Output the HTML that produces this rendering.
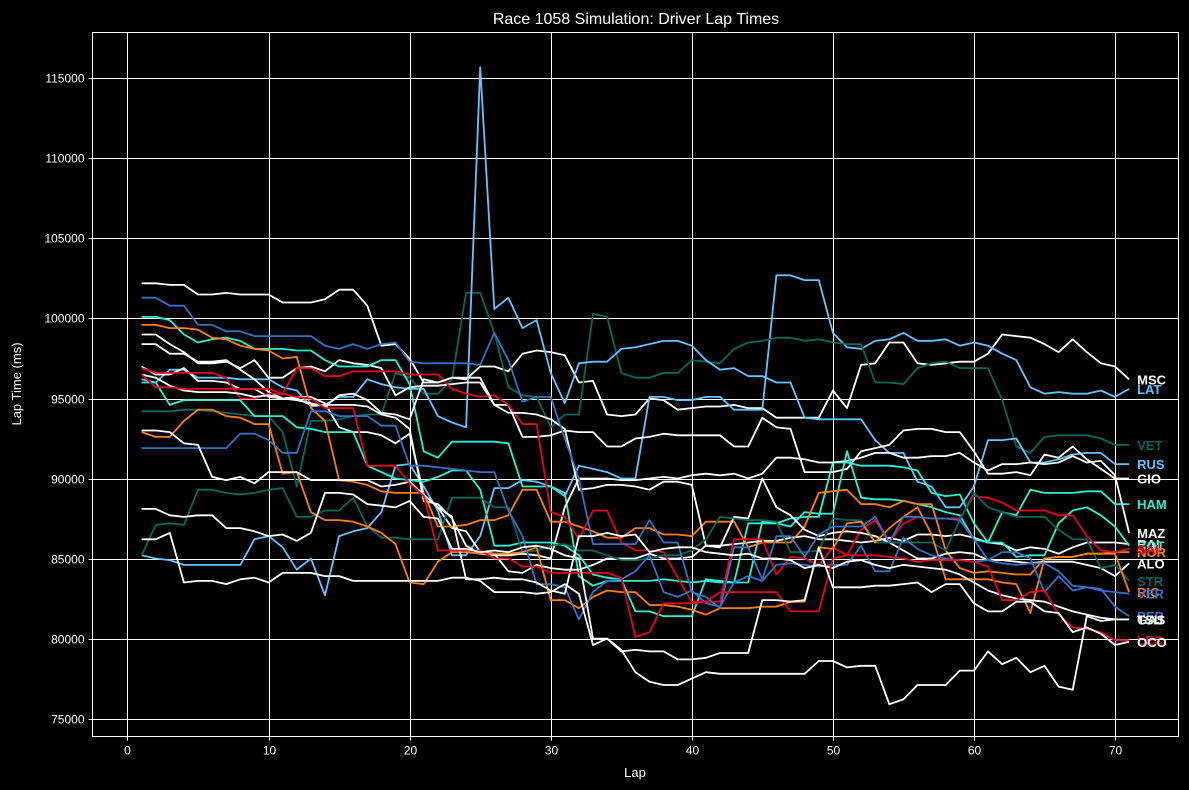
<!DOCTYPE html>
<html><head><meta charset="utf-8"><title>Race 1058 Simulation</title>
<style>html,body{margin:0;padding:0;background:#000;}svg{display:block;}</style></head>
<body>
<svg id="chart" width="1189" height="790" xmlns="http://www.w3.org/2000/svg" style="font-family:'Liberation Sans','DejaVu Sans',sans-serif;">
<rect width="1189" height="790" fill="#000"/>
<g id="grid"></g>
<g id="series"></g>
<g id="labels"></g>
<g id="axes"></g>
<text x="636" y="24" text-anchor="middle" fill="#fff" font-size="16">Race 1058 Simulation: Driver Lap Times</text>
<text x="635" y="777" text-anchor="middle" fill="#fff" font-size="13">Lap</text>
<text x="21" y="384" text-anchor="middle" fill="#fff" font-size="13" transform="rotate(-90 21 384)">Lap Time (ms)</text>
</svg>
<script>
const xTicks = [0,10,20,30,40,50,60,70];
const yTicks = [75000,80000,85000,90000,95000,100000,105000,110000,115000];
const drivers = ["MSC","LAT","VET","RUS","GIO","HAM","MAZ","RAI","BOT","NOR","SAI","ALO","STR","RIC","VER","PER","TSU","GAS","LEC","OCO"];
const colors = ["#ffffff","#64c4ff","#00695c","#64c4ff","#ffffff","#27f4d2","#ffffff","#ffffff","#27f4d2","#ff8000","#e80020","#ffffff","#00695c","#ff8000","#3671c6","#3671c6","#ffffff","#ffffff","#e80020","#ffffff"];
// lap times in thousands of ms, laps 1..71
const MSC = [102.2,102.2,102.1,102.1,101.5,101.5,101.6,101.5,101.5,101.5,101.0,101.0,101.0,101.2,101.8,101.8,100.8,98.3,98.4,97.5,96.0,96.0,96.3,96.2,97.0,97.0,96.7,97.8,98.0,97.9,97.7,96.0,96.1,94.0,93.9,94.0,95.0,94.9,94.3,94.4,94.5,94.5,94.6,94.4,94.4,93.8,93.8,93.8,93.8,95.5,94.4,97.1,97.2,98.5,98.5,97.2,97.1,97.2,97.3,97.3,97.8,99.0,98.9,98.8,98.4,97.9,98.7,97.9,97.2,97.0,96.2];
const LAT = [85.2,85.0,84.9,84.6,84.6,84.6,84.6,84.6,86.2,86.4,85.7,84.3,85.0,82.7,86.4,86.7,86.9,87.9,90.8,90.9,89.5,88.0,85.2,85.2,86.4,89.4,89.4,89.9,89.8,89.5,88.9,90.8,90.6,90.4,90.0,90.0,95.1,95.1,94.9,94.9,95.1,95.1,94.3,94.3,94.3,102.7,102.7,102.4,102.4,99.1,98.2,98.1,98.6,98.7,99.1,98.6,98.6,98.7,98.3,98.5,98.3,97.8,97.4,95.7,95.3,95.4,95.3,95.3,95.5,95.1,95.6];
const VET = [94.2,94.2,94.2,94.3,94.3,94.2,94.1,94.0,93.9,93.9,92.9,89.5,93.6,93.6,93.7,93.9,94.0,94.0,96.6,96.3,95.3,95.3,96.2,101.6,101.6,99.1,95.7,95.2,95.1,93.2,94.0,94.0,100.3,100.1,96.6,96.3,96.3,96.6,96.6,97.4,97.3,97.2,98.1,98.5,98.6,98.8,98.8,98.6,98.7,98.5,98.4,98.4,96.0,96.0,95.9,96.9,97.2,97.3,96.9,96.9,96.9,94.9,92.0,91.6,92.6,92.7,92.7,92.7,92.5,92.1,92.1];
const RUS = [96.2,96.0,96.8,96.8,96.3,96.3,96.3,96.2,96.2,96.2,95.7,95.5,94.5,94.6,95.1,95.1,96.2,95.9,95.7,95.6,95.6,93.9,93.5,93.2,115.7,100.6,101.3,99.4,99.9,96.6,94.7,97.2,97.3,97.3,98.1,98.2,98.4,98.6,98.6,98.3,97.4,96.8,96.9,96.4,96.4,96.0,96.0,93.8,93.7,93.7,93.7,93.7,92.4,91.6,91.6,89.8,89.5,88.2,88.2,89.5,92.4,92.4,92.5,91.0,91.0,91.2,91.5,91.6,91.6,90.9,90.9];
const GIO = [99.0,99.0,98.4,97.9,97.2,97.2,97.3,96.9,97.4,96.3,96.3,96.9,97.0,96.7,97.4,97.2,97.1,96.9,95.2,95.7,95.8,95.8,95.9,96.0,96.0,94.6,94.6,92.6,92.6,92.7,93.0,92.9,92.9,92.0,92.0,92.5,92.6,92.8,92.7,92.7,92.7,92.7,92.0,92.0,93.8,93.2,93.1,90.4,90.4,90.4,90.6,91.7,91.9,92.1,93.0,93.1,93.1,92.9,92.9,91.7,90.3,90.3,90.4,90.2,91.5,91.3,92.0,91.2,90.6,90.0,90.0];
const HAM = [100.1,100.1,99.9,99.0,98.5,98.7,98.8,98.6,98.1,98.1,98.1,98.0,98.0,97.4,97.0,97.0,97.0,97.4,97.4,95.9,91.7,91.3,92.3,92.3,92.3,92.3,92.2,89.5,89.5,89.5,89.1,83.9,83.3,83.6,83.6,83.6,83.6,83.7,83.6,83.5,83.6,83.5,83.5,83.5,87.3,87.2,87.5,87.6,87.6,91.0,91.0,90.8,90.8,90.8,90.7,90.5,89.1,88.9,89.0,87.2,86.0,87.9,87.7,89.3,89.1,89.1,89.1,89.2,89.2,88.4,88.4];
const MAZ = [98.4,98.4,97.8,97.8,97.3,97.3,97.4,96.8,96.2,95.4,95.0,95.0,94.6,94.6,94.6,94.6,94.5,94.0,93.8,93.1,88.6,88.4,87.5,85.8,85.3,85.2,85.2,85.3,85.2,85.0,88.2,90.0,90.0,90.0,89.9,89.9,90.0,90.1,90.0,90.2,90.3,90.2,90.3,90.0,90.3,91.3,91.3,91.2,91.0,91.0,91.1,91.3,91.6,91.6,91.3,91.3,91.4,91.4,91.6,91.0,90.5,90.9,90.9,91.0,90.9,91.0,91.4,91.0,91.1,90.2,86.6];
const RAI = [97.0,96.5,96.5,96.9,96.1,96.1,96.0,95.6,95.6,95.1,95.0,95.1,95.1,94.7,93.2,92.9,92.9,92.7,92.2,92.8,89.0,88.2,86.9,86.7,85.4,85.3,84.2,84.1,84.6,84.4,84.3,84.3,84.6,85.0,85.0,85.0,85.3,85.0,85.0,85.1,85.8,85.8,85.9,86.0,86.1,86.1,86.3,86.4,86.2,86.2,86.1,86.0,86.1,86.3,86.1,86.5,86.5,86.4,86.5,86.3,86.0,85.9,85.5,85.7,85.6,85.3,85.7,86.0,86.0,86.0,85.9];
const BOT = [96.0,96.0,94.6,94.9,94.9,94.9,94.9,94.9,93.9,93.9,93.9,93.2,93.1,92.9,92.9,92.9,90.8,90.4,90.0,89.9,89.8,90.1,90.5,90.5,89.3,85.8,85.8,86.0,86.0,86.0,85.8,85.2,84.0,83.8,83.7,81.7,81.7,81.4,81.4,81.4,83.7,83.6,83.5,87.2,87.2,87.2,87.0,87.9,87.8,87.8,91.7,88.8,88.7,88.7,88.6,88.4,88.2,87.9,87.7,86.2,86.0,86.0,85.1,85.2,85.2,87.2,88.0,88.2,87.7,87.0,85.8];
const NOR = [99.6,99.6,99.4,99.4,99.3,98.8,98.7,98.3,98.1,98.0,97.5,97.6,94.4,93.6,89.9,89.8,89.6,89.2,89.1,89.1,89.1,87.0,87.0,87.1,87.4,87.4,87.7,89.3,89.3,87.3,87.3,87.0,86.7,86.3,86.3,86.9,86.9,86.5,86.5,86.4,87.3,87.3,87.3,85.7,86.0,86.0,86.0,87.0,89.1,89.2,89.3,88.4,88.4,88.2,88.6,88.4,88.4,85.5,84.4,84.1,84.2,84.1,84.0,84.0,85.0,85.1,85.1,85.3,85.3,85.4,85.4];
const SAI = [96.9,96.6,96.6,96.6,96.6,96.6,96.3,95.0,95.0,95.3,95.3,96.9,96.9,96.4,96.4,96.7,96.7,96.7,96.7,96.5,96.5,96.5,95.6,95.3,95.1,95.2,94.6,93.4,93.4,87.9,87.6,86.2,88.0,88.0,86.0,85.5,85.5,85.4,83.8,82.3,82.3,82.3,86.2,86.2,86.2,84.0,85.1,85.0,84.6,85.7,85.2,86.8,87.4,86.0,87.2,87.6,87.5,87.5,87.5,88.9,88.8,88.5,88.0,88.0,88.0,87.7,87.7,86.4,85.5,85.4,85.6];
const ALO = [96.5,96.3,95.8,95.5,95.4,95.4,95.4,95.3,95.1,95.2,95.0,94.9,94.7,94.5,95.2,95.3,94.9,94.1,94.0,93.7,96.2,96.0,96.3,96.3,96.3,94.6,94.1,94.1,94.0,93.7,93.1,89.3,89.4,89.6,89.6,89.5,89.3,89.8,89.8,89.6,85.8,85.7,87.6,87.5,90.0,88.2,87.7,86.8,86.4,86.6,86.7,86.6,86.4,86.0,85.5,85.0,85.0,85.3,85.4,85.3,84.9,84.9,84.8,84.7,84.8,84.8,84.8,84.6,84.4,83.9,84.7];
const STR = [85.2,87.1,87.2,87.1,89.3,89.3,89.1,89.0,89.1,89.3,89.4,87.6,87.6,88.0,88.0,88.8,87.0,86.3,86.3,86.2,86.2,86.2,88.8,88.8,88.8,88.2,88.2,85.4,85.5,85.8,85.9,85.5,85.5,85.2,84.9,84.9,85.0,85.2,85.2,85.5,86.2,87.6,87.5,87.4,87.4,87.3,85.4,85.4,85.5,87.5,87.4,87.4,86.0,86.0,86.0,86.0,86.0,85.5,87.4,89.1,88.2,87.9,87.6,87.6,87.6,86.8,86.2,86.2,84.4,84.6,83.6];
const RIC = [92.9,92.6,92.6,93.6,94.3,94.3,93.9,93.8,93.4,93.4,90.3,90.4,87.9,87.4,87.4,87.3,87.0,86.6,85.9,83.5,83.4,84.8,85.4,85.4,85.3,85.3,85.3,85.4,85.7,82.4,82.4,81.9,82.6,83.0,82.9,82.9,82.1,82.1,82.0,81.8,81.5,81.9,81.9,81.9,82.0,82.0,82.3,82.3,85.7,85.6,87.2,87.3,86.0,86.9,87.6,88.2,86.5,83.7,83.7,83.7,83.7,83.5,83.4,81.6,85.0,85.1,85.1,85.3,85.3,85.3,82.9];
const VER = [91.9,91.9,91.9,91.9,91.9,91.9,91.9,92.8,92.8,92.4,91.6,91.6,94.2,94.2,93.9,93.9,93.9,93.3,93.3,90.8,90.8,90.7,90.6,90.5,90.4,90.4,88.0,86.4,83.4,83.4,83.2,81.2,82.9,83.6,83.7,84.2,85.2,82.9,82.6,83.0,82.2,82.0,83.5,83.9,83.6,84.6,84.7,84.6,84.5,84.6,84.6,85.8,84.2,84.2,86.3,85.6,85.2,85.0,84.9,84.8,84.9,84.7,84.6,84.7,84.7,84.2,83.3,83.2,83.0,82.9,82.8];
const PER = [101.3,101.3,100.8,100.8,99.6,99.6,99.2,99.2,98.9,98.9,98.9,98.9,98.9,98.3,98.1,98.4,98.1,98.4,98.5,97.3,97.2,97.2,97.2,97.2,97.1,99.1,97.4,94.8,95.1,95.1,92.5,90.0,85.9,85.9,85.9,85.9,87.4,86.0,86.0,82.9,82.6,81.9,85.7,85.7,83.7,86.4,86.4,85.1,86.5,87.0,87.0,87.0,87.6,86.0,87.6,87.6,87.5,87.5,87.4,86.2,84.9,85.4,85.4,85.0,82.9,83.9,83.0,83.2,83.1,82.0,81.4];
const TSU = [86.2,86.2,86.6,83.5,83.6,83.6,83.4,83.7,83.8,83.5,84.1,84.1,84.1,83.9,83.9,83.6,83.6,83.6,83.6,83.6,83.6,83.6,83.8,83.8,83.6,82.9,82.9,82.9,82.8,82.9,83.4,82.8,79.6,80.0,79.3,77.9,77.3,77.1,77.1,77.5,77.9,77.8,77.8,77.8,77.8,77.8,77.8,77.8,78.6,78.6,78.2,78.3,78.3,75.9,76.2,77.1,77.1,77.1,78.0,78.0,79.2,78.4,78.8,77.9,78.3,77.0,76.8,81.4,81.1,81.2,81.2];
const GAS = [93.0,93.0,92.9,92.2,92.1,90.1,89.9,90.1,89.7,90.4,90.4,90.4,89.9,89.9,89.9,89.9,89.9,89.5,89.6,89.8,89.0,88.2,87.6,83.7,83.7,83.8,83.7,83.7,83.5,83.0,82.8,86.4,86.4,86.6,86.4,86.5,85.4,85.6,85.7,85.7,85.4,85.3,85.2,85.3,85.0,85.0,84.9,84.4,84.6,84.4,84.8,84.9,84.6,84.4,84.6,84.5,84.4,84.3,84.0,83.5,83.0,82.7,82.5,82.4,82.3,82.0,81.7,81.5,81.3,81.2,81.2];
const LEC = [96.5,95.7,95.7,95.6,95.6,95.6,95.6,95.6,95.6,95.6,95.3,95.1,95.0,94.4,94.4,94.4,90.8,90.8,90.8,89.7,88.9,85.5,85.5,85.5,85.5,85.0,85.0,84.5,84.5,84.1,84.1,84.1,84.1,84.1,83.8,80.1,80.4,82.2,82.2,82.2,82.3,82.9,82.9,82.9,82.9,82.9,81.7,81.7,81.7,85.0,85.2,85.2,85.2,85.1,85.0,84.8,84.9,84.9,84.9,84.8,84.5,82.4,82.4,82.9,83.0,81.5,80.7,80.6,80.4,79.9,79.9];
const OCO = [88.1,88.1,87.7,87.6,87.7,87.7,86.9,86.9,86.7,86.4,86.5,86.1,86.6,89.1,89.1,89.0,88.4,88.3,88.2,88.6,87.6,87.5,85.6,85.6,85.4,85.5,85.4,85.7,85.8,85.6,85.2,85.0,80.0,80.0,79.2,79.3,79.2,79.2,78.7,78.7,78.8,79.1,79.1,79.1,82.4,82.4,82.3,82.4,85.7,83.2,83.2,83.2,83.3,83.3,83.4,83.5,82.9,83.4,83.4,82.2,81.7,81.7,82.3,82.3,81.7,81.6,80.4,80.7,80.3,79.6,79.8];
const seriesData = [MSC,LAT,VET,RUS,GIO,HAM,MAZ,RAI,BOT,NOR,SAI,ALO,STR,RIC,VER,PER,TSU,GAS,LEC,OCO];

const NS = "http://www.w3.org/2000/svg";
const L = 92.5, R = 1178.5, T = 32.5, B = 736.5;
const xMin = -2.48, xMax = 74.5, yMin = 73880, yMax = 117870;
function xs(v){ return L + (v - xMin) / (xMax - xMin) * (R - L); }
function ys(v){ return B - (v - yMin) / (yMax - yMin) * (B - T); }
function mk(tag, attrs, parent){ const e = document.createElementNS(NS, tag); for (const k in attrs) e.setAttribute(k, attrs[k]); parent.appendChild(e); return e; }

const grid = document.getElementById('grid');
const axes = document.getElementById('axes');
xTicks.forEach(t => {
  const x = Math.round(xs(t)) + 0.5;
  const g = mk('line', {x1:x, x2:x, y1:T, y2:B, stroke:'#fff', 'stroke-width':1}, grid);
  
  
  const tk = mk('line', {x1:x, x2:x, y1:B, y2:B+4, stroke:'#fff', 'stroke-width':1}, axes);
  
  
  const lb = mk('text', {x:x, y:B+18, fill:'#fff', 'font-size':12, 'text-anchor':'middle'}, axes);
  lb.textContent = t;
  
  
});
yTicks.forEach(t => {
  const y = Math.round(ys(t)) + 0.5;
  const g = mk('line', {x1:L, x2:R, y1:y, y2:y, stroke:'#fff', 'stroke-width':1}, grid);
  
  
  const tk = mk('line', {x1:L-4, x2:L, y1:y, y2:y, stroke:'#fff', 'stroke-width':1}, axes);
  
  
  const lb = mk('text', {x:L-8, y:y+4, fill:'#fff', 'font-size':12, 'text-anchor':'end'}, axes);
  lb.textContent = t;
  
  
});
const frame = mk('rect', {x:L, y:T, width:R-L, height:B-T, fill:'none', stroke:'#fff', 'stroke-width':1}, axes);



const sg = document.getElementById('series');
const lg = document.getElementById('labels');
seriesData.forEach((arr, i) => {
  const pts = arr.map((v, j) => xs(j + 1).toFixed(1) + ',' + ys(v * 1000).toFixed(1)).join(' ');
  const pl = mk('polyline', {points:pts, fill:'none', stroke:colors[i], 'stroke-width':1.8, 'stroke-linejoin':'round'}, sg);
  
  
  const last = arr[arr.length - 1];
  const tx = mk('text', {x:xs(arr.length) + 8, y:ys(last * 1000) + 5, fill:colors[i], 'font-size':13, 'font-weight':'bold'}, lg);
  tx.textContent = drivers[i];
  
  
});
</script>
</body></html>
